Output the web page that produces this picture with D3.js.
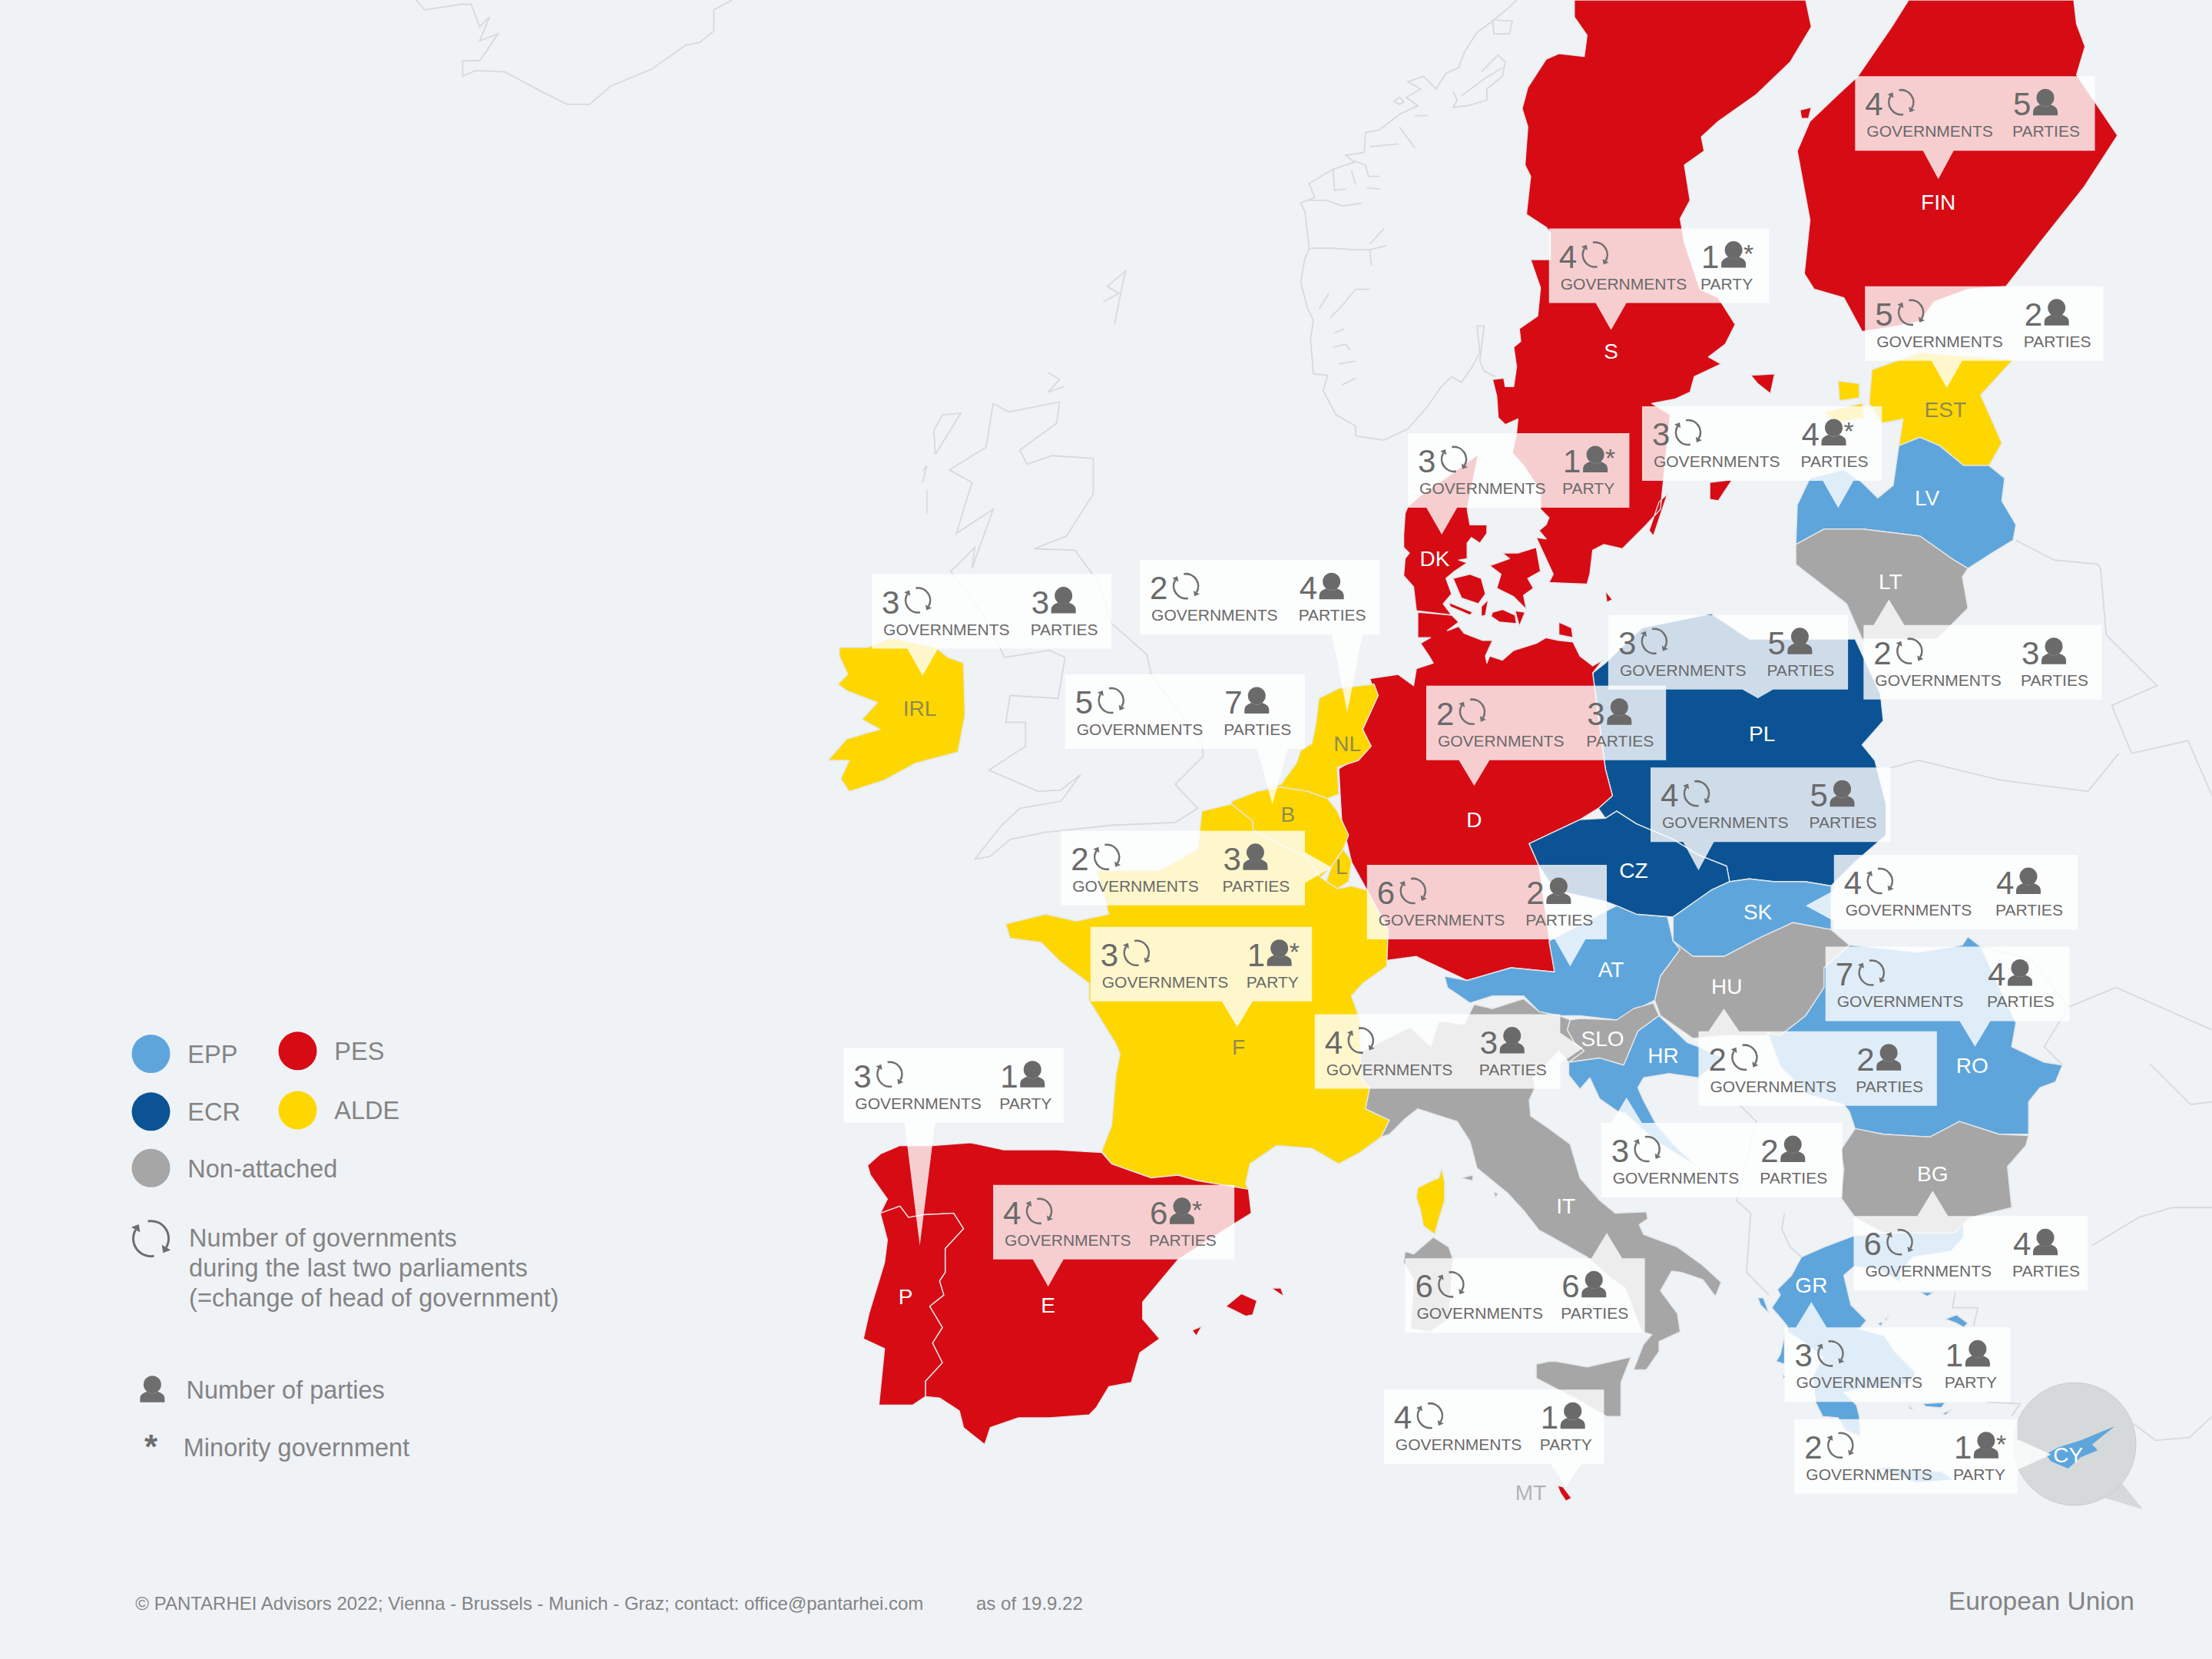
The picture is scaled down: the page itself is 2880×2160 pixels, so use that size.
<!DOCTYPE html>
<html>
<head>
<meta charset="utf-8">
<script src="https://cdn.jsdelivr.net/npm/d3@7"></script>
<style>
  html, body { margin: 0; background: #eff3f6; }
  text { font-family: "Liberation Sans", Arial, sans-serif; }
</style>
</head>
<body>
<svg id="chart" width="2880" height="2160"></svg>
<script>
// callout values, one entry per country
const codes      = ['FIN','S','EST','LV','DK','IRL','NL','B','LT','PL','D','CZ','L','AT','SK','F','HU','RO','SLO','P','E','HR','BG','IT','GR','MT','CY'];
const governments = [4,4,5,3,3,3,2,5,2,3,2,4,2,6,4,3,2,7,4,3,4,3,6,6,3,4,2];
const parties     = [5,1,2,4,1,3,4,7,3,5,3,5,3,2,4,1,2,4,3,1,6,2,4,6,1,1,1];
const minority    = ['S','LV','DK','F','E','CY'];

// callout placement, same order as codes, in map units
const boxLeft  = [1315,1098,1322,1164,998,618,808,755,1321,1140,1011,1170,752,969,1300,773,1204,1294,932,598,704,1135,1314,996,1265,981,1272];
const boxTop   = [54,162,203,288,307,407,397,478,443,436,486,544,589,613,606,657,731,671,719,743,840,796,862,892,941,985,1006];
const boxRight = [1485,1254,1491,1334,1155,788,978,925,1490,1310,1181,1340,925,1139,1473,930,1373,1467,1106,754,875,1306,1480,1166,1425,1137,1430];
const partyCol = [1427,1206,1435,1277,1108,731,921,868,1433,1253,1125,1283,867,1082,1415,884,1316,1409,1049,709,815,1248,1427,1107,1379,1092,1385];
const tipX     = [1374,1142,1380,1303,1022,654,955,902,1339,1246,1045,1204,944,1113,1280,877,1222,1400,1122,652,743,1153,1370,1139,1284,1110,1454];
const tipY     = [127,234,275,360,379,479,505,570,425,495,557,617,615,685,642,728,715,742,743,883,912,778,844,874,923,1054,1031];

// country labels
const labelCodes = ['FIN','S','EST','LV','LT','DK','IRL','NL','B','PL','D','CZ','L','SK','AT','HU','SLO','HR','RO','F','BG','IT','GR','P','E','CY','MT'];
const labelX = [1374,1142,1379,1366,1340,1017,652,955,913,1249,1045,1158,951,1246,1142,1224,1136,1179,1398,878,1370,1110,1284,642,743,1466,1085];
const labelY = [143,249,290,353,412,396,502,527,577,520,581,617,614,646,687,699,736,748,755,742,832,855,911,919,925,1031,1058];

const familyColor = { EPP:'#5ea5dc', ECR:'#0b5394', PES:'#d60b14', ALDE:'#ffd700', NA:'#a6a6a6' };
const legendFamilies = ['EPP','PES','ECR','ALDE','NA'];
const legendNames    = ['EPP','PES','ECR','ALDE','Non-attached'];
const legendCircleX  = [107,211,107,211,107];
const legendCircleY  = [747,745,788,787,828];
const legendLines    = ['Number of governments','during the last two parliaments','(=change of head of government)'];

// outlines, in map units (1568 x 1176)
const shapes = [
  { f:'PES', rings:[
    [[1116,0],[1280,0],[1284,19],[1269,44],[1245,67],[1218,86],[1206,97],[1208,107],[1194,117],[1198,142],[1191,155],[1194,172],[1205,205],[1218,211],[1230,230],[1223,244],[1211,253],[1220,258],[1201,267],[1198,278],[1187,283],[1171,286],[1184,294],[1177,361],[1167,372],[1150,389],[1137,386],[1129,390],[1127,407],[1125,414],[1098,413],[1101,407],[1089,381],[1096,382],[1091,376],[1096,372],[1098,367],[1092,361],[1092,348],[1080,330],[1072,321],[1075,307],[1076,297],[1067,301],[1062,296],[1061,281],[1058,269],[1066,268],[1067,274],[1073,274],[1075,260],[1073,246],[1078,242],[1077,233],[1090,224],[1092,204],[1085,184],[1099,184],[1099,165],[1096,161],[1082,152],[1085,125],[1081,117],[1083,90],[1079,77],[1083,62],[1096,42],[1105,38],[1123,40],[1125,25],[1116,12]],
    [[1241,266],[1258,265],[1255,279],[1246,272]],
    [[1212,342],[1228,340],[1218,355],[1212,354]],
    [[1176,356],[1182,350],[1172,380],[1169,376]]
  ]},
  { f:'PES', rings:[
    [[1353,0],[1470,0],[1472,17],[1478,33],[1472,53],[1501,96],[1477,133],[1446,172],[1422,203],[1395,205],[1371,214],[1361,228],[1340,232],[1320,235],[1307,211],[1286,205],[1279,194],[1283,156],[1274,107],[1283,86],[1303,67],[1317,54],[1341,19]],
    [[1276,78],[1284,76],[1282,84],[1277,84]]
  ]},
  { f:'ALDE', rings:[
    [[1327,262],[1361,250],[1427,255],[1404,280],[1419,314],[1410,330],[1392,330],[1375,316],[1361,310],[1346,316],[1349,297],[1334,300],[1325,286]],
    [[1293,292],[1320,286],[1322,296],[1300,300]],
    [[1303,270],[1318,272],[1318,282],[1304,284]]
  ]},
  { f:'EPP', rings:[[[1346,316],[1361,310],[1375,316],[1392,330],[1410,330],[1421,339],[1419,355],[1429,372],[1427,383],[1412,392],[1395,403],[1385,397],[1361,380],[1320,375],[1293,375],[1273,386],[1274,358],[1283,339],[1307,333],[1320,342],[1331,353],[1342,344]]] },
  { f:'NA', rings:[[[1273,386],[1293,375],[1320,375],[1361,380],[1385,397],[1395,403],[1391,409],[1395,431],[1373,453],[1320,453],[1309,428],[1273,400]]] },
  { f:'ECR', rings:[[[1138,470],[1164,445],[1213,435],[1240,453],[1315,453],[1333,492],[1335,511],[1320,528],[1329,539],[1337,570],[1337,592],[1315,611],[1298,628],[1280,625],[1258,625],[1240,623],[1226,625],[1224,614],[1204,606],[1186,595],[1160,584],[1146,575],[1138,580],[1133,573],[1143,564],[1138,545],[1131,492],[1129,477]]] },
  // Germany
  { f:'PES', rings:[
    [[971,481],[991,478],[1002,486],[1004,474],[1016,470],[1013,465],[1007,456],[1014,452],[1005,452],[1005,434],[1029,436],[1034,441],[1026,447],[1034,444],[1038,449],[1051,454],[1058,454],[1053,465],[1054,470],[1056,465],[1065,468],[1073,461],[1089,456],[1096,452],[1105,454],[1115,455],[1120,465],[1129,472],[1136,468],[1129,477],[1131,492],[1138,545],[1143,564],[1133,573],[1120,581],[1084,598],[1091,614],[1098,664],[1102,689],[1071,686],[1040,695],[1004,678],[982,681],[984,659],[969,631],[958,611],[951,581],[949,545],[964,536],[966,506],[975,492]],
    [[1105,441],[1114,445],[1115,452],[1105,450]]
  ]},
  // Denmark
  { f:'PES', rings:[
    [[998,359],[1006,352],[1030,335],[1048,322],[1040,361],[1042,372],[1054,372],[1054,378],[1049,385],[1043,381],[1040,385],[1040,396],[1034,397],[1040,399],[1031,405],[1025,410],[1029,421],[1023,428],[1029,436],[1004,433],[1002,416],[995,408],[996,396],[999,392],[995,388],[995,379],[996,364]],
    [[1030,410],[1042,407],[1050,410],[1053,421],[1048,428],[1036,424]],
    [[1027,427],[1044,434],[1042,436],[1028,430]],
    [[1055,425],[1053,436],[1050,437],[1050,430]],
    [[1058,434],[1065,432],[1074,436],[1075,442],[1063,441],[1057,437]],
    [[1074,433],[1081,434],[1077,444]],
    [[1056,401],[1070,396],[1065,392],[1076,392],[1089,388],[1092,405],[1083,410],[1087,417],[1080,422],[1082,432],[1073,423],[1061,417],[1064,407]],
    [[1138,419],[1143,425],[1139,427]]
  ]},
  { f:'ALDE', rings:[[[935,495],[949,488],[974,485],[977,493],[966,517],[972,529],[963,539],[948,544],[949,563],[941,566],[927,561],[908,558],[891,561],[908,556],[919,541],[922,532],[930,527],[933,512]]] },
  { f:'ALDE', rings:[[[873,568],[891,561],[908,558],[927,561],[941,566],[948,575],[956,592],[952,602],[944,614],[936,622],[925,607],[910,600],[888,588],[888,582],[873,570]]] },
  { f:'ALDE', rings:[[[944,614],[952,602],[958,610],[956,625],[948,630],[940,625]]] },
  { f:'ALDE', rings:[
    [[852,575],[873,570],[888,582],[888,588],[910,600],[925,607],[936,622],[948,630],[958,628],[969,631],[984,659],[983,685],[966,697],[958,706],[964,723],[965,764],[971,771],[968,786],[985,794],[979,806],[964,817],[949,825],[930,814],[905,812],[886,825],[883,839],[885,843],[849,837],[835,833],[816,835],[788,825],[781,816],[788,798],[791,762],[794,747],[791,740],[772,709],[772,697],[752,682],[738,668],[716,665],[713,655],[741,648],[763,653],[786,648],[783,636],[777,617],[822,617],[849,602]],
    [[1022,828],[1024,838],[1024,851],[1020,864],[1017,875],[1009,869],[1007,858],[1004,849],[1005,842],[1015,837],[1020,835]]
  ]},
  { f:'ALDE', rings:[[[595,459],[615,459],[632,452],[663,459],[672,466],[683,470],[684,507],[679,533],[649,541],[627,553],[602,561],[596,552],[602,539],[587,539],[600,524],[624,517],[611,510],[622,498],[601,490],[594,485],[601,478],[595,465]]] },
  { f:'PES', rings:[
    [[638,812],[661,812],[688,810],[711,815],[749,815],[781,817],[788,825],[816,835],[835,833],[849,837],[885,843],[887,860],[874,868],[835,893],[810,923],[810,935],[822,949],[808,959],[802,980],[786,983],[777,998],[772,1003],[744,1005],[722,1005],[702,1012],[698,1024],[683,1012],[680,1000],[666,991],[656,990],[656,979],[668,966],[661,952],[668,941],[659,926],[669,918],[666,908],[670,902],[670,885],[683,871],[676,860],[655,861],[644,863],[638,855],[624,860],[629,850],[617,833],[615,826],[624,818]],
    [[869,926],[880,917],[891,922],[888,932],[883,933]],
    [[901,913],[908,913],[910,919]],
    [[845,943],[852,940],[848,947]]
  ]},
  { f:'PES', rings:[[[624,860],[638,855],[644,863],[655,861],[676,860],[683,871],[670,885],[670,902],[666,908],[669,918],[659,926],[668,941],[661,952],[668,966],[656,979],[656,990],[647,996],[623,996],[627,956],[612,949],[616,931],[627,895],[629,879]]] },
  // Italy
  { f:'NA', rings:[
    [[1045,712],[1058,715],[1080,708],[1091,717],[1105,720],[1113,723],[1111,730],[1116,739],[1123,745],[1112,753],[1105,745],[1087,764],[1088,771],[1084,780],[1085,791],[1098,800],[1113,811],[1120,835],[1134,851],[1145,860],[1167,859],[1168,864],[1162,868],[1165,875],[1189,884],[1207,897],[1220,909],[1216,919],[1207,907],[1192,902],[1185,901],[1177,915],[1189,931],[1191,944],[1176,951],[1176,958],[1167,971],[1158,971],[1165,953],[1171,946],[1164,944],[1152,913],[1142,906],[1125,891],[1102,878],[1091,872],[1080,858],[1069,846],[1047,828],[1042,809],[1033,795],[1005,786],[996,793],[985,804],[979,806],[985,794],[968,786],[971,771],[965,764],[964,746],[994,731],[1000,728],[1014,742],[1020,724],[1038,726]],
    [[1089,967],[1098,965],[1103,965],[1125,969],[1156,962],[1149,980],[1149,1004],[1139,1004],[1118,992],[1089,977]],
    [[1016,877],[1027,884],[1030,893],[1029,907],[1027,935],[1014,944],[1000,942],[1002,907],[995,895],[996,887],[1002,889]],
    [[1036,835],[1044,833],[1044,837]],
    [[1059,845],[1062,846],[1060,849]]
  ]},
  { f:'PES', rings:[[[1104,1053],[1108,1054],[1114,1062],[1110,1064],[1106,1058]]] },
  { f:'EPP', rings:[[[1024,692],[1040,695],[1071,686],[1102,689],[1098,667],[1146,642],[1160,648],[1182,650],[1186,667],[1191,673],[1177,692],[1173,709],[1146,723],[1120,720],[1105,720],[1091,717],[1080,706],[1058,706],[1042,711],[1026,700]]] },
  { f:'ECR', rings:[[[1084,598],[1120,581],[1138,580],[1146,575],[1160,584],[1186,595],[1204,606],[1224,614],[1226,625],[1213,631],[1186,650],[1160,648],[1146,642],[1138,639],[1102,631],[1091,614]]] },
  { f:'EPP', rings:[[[1226,625],[1240,623],[1258,625],[1280,625],[1298,628],[1298,659],[1271,654],[1249,664],[1222,678],[1200,678],[1186,667],[1186,650],[1213,631]]] },
  { f:'NA', rings:[[[1186,667],[1200,678],[1222,678],[1249,664],[1271,654],[1298,659],[1311,670],[1293,686],[1293,700],[1280,720],[1262,734],[1222,734],[1200,736],[1177,720],[1173,709],[1177,692],[1191,673]]] },
  // Slovenia
  { f:'NA', rings:[[[1113,723],[1120,722],[1146,723],[1158,715],[1172,711],[1176,720],[1161,731],[1151,755],[1134,750],[1112,753],[1123,745],[1116,739],[1111,730]]] },
  // Croatia
  { f:'EPP', rings:[[[1176,720],[1196,739],[1204,742],[1222,750],[1204,764],[1183,761],[1165,764],[1161,771],[1165,780],[1174,797],[1190,815],[1225,846],[1200,825],[1174,809],[1152,789],[1147,788],[1134,779],[1127,764],[1120,772],[1112,762],[1112,753],[1134,750],[1151,755],[1161,731]]] },
  { f:'EPP', rings:[[[1395,664],[1404,671],[1429,725],[1426,742],[1449,753],[1462,755],[1457,767],[1446,771],[1438,781],[1438,804],[1417,804],[1389,795],[1368,806],[1335,804],[1315,800],[1311,788],[1307,783],[1282,776],[1262,756],[1253,732],[1262,734],[1280,720],[1293,700],[1293,686],[1311,670],[1360,675],[1391,670]]] },
  // Greece, drawn before Bulgaria so the northern border sits under it
  { f:'EPP', rings:[
    [[1314,876],[1339,874],[1385,874],[1392,866],[1392,877],[1383,887],[1356,891],[1347,902],[1347,909],[1332,900],[1316,898],[1314,898],[1307,904],[1312,925],[1316,929],[1323,936],[1318,942],[1336,947],[1343,958],[1358,973],[1354,980],[1339,984],[1321,984],[1307,987],[1316,996],[1318,1004],[1319,1018],[1308,1014],[1303,1005],[1292,1004],[1287,994],[1285,976],[1292,962],[1278,951],[1267,944],[1267,940],[1256,927],[1262,918],[1260,914],[1270,904],[1277,891],[1293,884]],
    [[1246,920],[1250,920],[1254,931],[1248,925]],
    [[1265,947],[1265,962],[1265,967],[1259,965],[1262,960]],
    [[1264,974],[1266,976],[1264,977]],
    [[1361,916],[1371,916],[1366,919]],
    [[1379,935],[1387,932],[1395,938],[1392,941],[1387,938]],
    [[1331,938],[1335,937],[1333,940]],
    [[1336,935],[1339,933],[1337,936]],
    [[1363,995],[1379,994],[1376,998],[1365,997]],
    [[1377,1002],[1384,999],[1379,1003]],
    [[1353,996],[1356,999],[1354,999]],
    [[1330,1040],[1339,1040],[1354,1042],[1376,1043],[1385,1049],[1358,1051],[1339,1044]]
  ]},
  { f:'NA', rings:[[[1315,800],[1335,804],[1368,806],[1389,795],[1417,804],[1438,805],[1436,812],[1423,827],[1426,856],[1397,863],[1385,874],[1335,874],[1315,863],[1305,849],[1307,829],[1305,815]]] }
];
const cyprusRing = [[1450,1031],[1459,1026],[1475,1021],[1499,1011],[1483,1024],[1487,1028],[1475,1033],[1466,1041],[1454,1036]];
const cyprusBubble = { cx:1470.6, cy:1023.6, r:43.5, tail:[[1503,1050],[1519,1070],[1486,1060]] };

// pale neighbours: Iceland, Norway, Britain, eastern borders
const contextLines = [
  [[295,0],[301,7],[327,3],[334,3],[340,19],[347,12],[340,29],[353,24],[345,36],[340,43],[328,43],[328,54],[337,50],[358,51],[384,65],[402,74],[418,74],[433,61],[462,49],[486,32],[496,30],[506,22],[506,7],[519,0]],
  // Norway coast
  [[1075,0],[1070,5],[1058,15],[1047,23],[1038,37],[1034,48],[1025,52],[1018,63],[1009,54],[998,58],[1007,63],[997,69],[1005,75],[992,81],[978,92],[968,94],[967,108],[954,110],[960,115],[945,120],[928,130],[932,140],[922,144],[925,150],[927,167],[928,177],[925,183],[922,200],[927,219],[931,227],[929,240],[931,265],[941,266],[938,277],[947,294],[961,302],[961,309],[981,312],[998,304],[1012,288],[1021,275],[1029,267],[1036,271],[1043,261],[1049,250],[1047,231],[1052,231],[1049,256],[1052,263],[1060,267]],
  [[929,142],[940,142],[952,146],[965,144]],
  [[929,176],[945,176],[960,177],[971,177],[983,174]],[[971,173],[981,162]],[[971,177],[972,188]],
  [[943,225],[951,217],[961,205],[971,205]],[[942,208],[935,219]],
  [[946,236],[953,233]],[[945,246],[954,244],[957,248]],[[949,258],[961,256]],[[951,273],[961,268]],
  [[1030,65],[1033,71],[1030,76],[1040,75],[1054,71],[1054,63],[1065,54],[1067,44],[1062,39],[1050,51]],
  [[1036,68],[1052,56],[1065,48]],
  [[988,72],[992,69],[995,72],[992,74],[988,72]],
  [[1058,14],[1072,15],[1070,24],[1059,24],[1058,14]],
  [[971,104],[991,102]],[[992,90],[1003,105]],[[1003,82],[1012,82]],
  [[960,114],[968,117],[970,125],[978,125]],[[958,121],[961,131]],[[945,120],[946,135],[954,134]],
  [[969,133],[978,134]],
  // Britain
  [[704,286],[715,292],[751,285],[749,300],[723,319],[728,329],[746,323],[775,325],[775,350],[756,380],[733,389],[762,390],[775,408],[777,408],[788,442],[813,464],[816,478],[852,527],[853,536],[833,556],[849,573],[833,583],[788,585],[741,590],[716,595],[702,607],[691,609],[710,585],[723,573],[752,568],[766,549],[752,560],[736,561],[701,546],[727,529],[727,512],[713,512],[716,493],[750,495],[755,466],[744,461],[712,466],[700,440],[674,405],[691,388],[689,403],[704,361],[678,378],[689,342],[673,333],[699,317],[704,286]],
  [[663,322],[681,293],[668,294],[662,305],[663,322]],
  [[654,334],[657,330],[654,342]],[[657,347],[657,364]],
  [[782,214],[793,208],[785,203],[798,192],[795,205],[790,230]],
  [[743,264],[751,269],[743,278],[754,274]],
  // east
  [[1429,383],[1456,397],[1487,400],[1489,403],[1493,450],[1529,486],[1497,500],[1511,534],[1551,525],[1568,564]],
  [[1337,545],[1360,539],[1418,553],[1480,561],[1502,534]],
  [[1404,671],[1440,680],[1466,714],[1449,742],[1462,755]],
  [[1466,714],[1500,700],[1568,730]],
  [[1524,754],[1553,783],[1568,781]],
  [[1233,783],[1245,795],[1231,851],[1241,860],[1238,902],[1254,918]],
  [[1265,860],[1263,871],[1269,884],[1277,891]],
  [[1386,916],[1384,927],[1402,927],[1399,940]],
  [[1408,994],[1432,995],[1426,1004]],
  [[1483,883],[1516,863],[1540,856],[1568,856]],
  [[1512,1009],[1528,1021],[1552,1019],[1568,1004]]
];

const svg = d3.select('#chart');
const W = 2880, H = 2160;
const x = d3.scaleLinear().domain([0, 1568]).range([0, W]);
const y = d3.scaleLinear().domain([0, 1176]).range([0, H]);
const outline = d3.line().x(d => x(d[0])).y(d => y(d[1]));
const ringPath = r => outline(r) + 'Z';

const grey = '#6a6a6a', legendGrey = '#848484';

svg.append('rect').attr('width', W).attr('height', H).attr('fill', '#eff3f6');

svg.append('g').selectAll('path').data(contextLines).join('path')
  .attr('d', d => outline(d))
  .attr('fill', 'none').attr('stroke', '#d6dadc').attr('stroke-width', 1.8);

svg.append('g').selectAll('path').data(shapes).join('path')
  .attr('d', d => d.rings.map(ringPath).join(''))
  .attr('fill', d => familyColor[d.f])
  .attr('stroke', '#e4e6e8').attr('stroke-width', 1.4).attr('stroke-linejoin', 'round');

// cyprus bubble
const bubble = svg.append('g');
bubble.append('path')
  .attr('d', ringPath(cyprusBubble.tail))
  .attr('fill', '#d6d9da');
bubble.append('circle')
  .attr('cx', x(cyprusBubble.cx)).attr('cy', y(cyprusBubble.cy)).attr('r', x(cyprusBubble.r))
  .attr('fill', '#d6d9da').attr('stroke', '#c8cccd').attr('stroke-width', 1);
bubble.append('path').attr('d', ringPath(cyprusRing)).attr('fill', familyColor.EPP);

// country labels under the callouts
const darkFill = new Set(['FIN','S','LV','LT','DK','PL','D','CZ','SK','AT','HU','SLO','HR','RO','BG','IT','GR','P','E','CY']);
svg.append('g').selectAll('text').data(labelCodes).join('text')
  .attr('x', (d, i) => x(labelX[i]))
  .attr('y', (d, i) => y(labelY[i]))
  .attr('dy', '0.36em')
  .attr('text-anchor', 'middle')
  .attr('font-size', 28)
  .attr('fill', d => darkFill.has(d) ? '#ffffff' : (d === 'MT' ? '#b3b3b3' : '#8f8a52'))
  .text(d => d);

// box with its pointer as one outline so the overlap is not painted twice
function calloutPath(i) {
  const x0 = x(boxLeft[i]), x1 = x(boxRight[i]), y0 = y(boxTop[i]), y1 = y0 + 97;
  const tx = x(tipX[i]), ty = y(tipY[i]), hw = 20;
  if (ty > y1) return `M${x0},${y0}H${x1}V${y1}H${tx + hw}L${tx},${ty}L${tx - hw},${y1}H${x0}Z`;
  if (ty < y0) return `M${x0},${y0}H${tx - hw}L${tx},${ty}L${tx + hw},${y0}H${x1}V${y1}H${x0}Z`;
  if (tx > x1) return `M${x0},${y0}H${x1}V${ty - hw}L${tx},${ty}L${x1},${ty + hw}V${y1}H${x0}Z`;
  return `M${x0},${y0}H${x1}V${y1}H${x0}V${ty + hw}L${tx},${ty}L${x0},${ty - hw}Z`;
}

function refreshIcon(g, cx, cy, r, color, sw) {
  const rad = Math.PI / 180;
  [[-100, 30], [80, 210]].forEach(([a0, a1]) => {
    const p = d3.path();
    p.arc(cx, cy, r, a0 * rad, a1 * rad);
    g.append('path').attr('d', p.toString()).attr('fill', 'none').attr('stroke', color).attr('stroke-width', sw);
    // arrow head at the end of the arc
    const ex = cx + r * Math.cos(a1 * rad), ey = cy + r * Math.sin(a1 * rad);
    const tx = -Math.sin(a1 * rad), ty = Math.cos(a1 * rad), nx = Math.cos(a1 * rad), ny = Math.sin(a1 * rad);
    const s = r * 0.36;
    g.append('path')
      .attr('d', `M${ex + nx * s * 0.8},${ey + ny * s * 0.8}L${ex - nx * s * 0.8},${ey - ny * s * 0.8}L${ex + tx * s},${ey + ty * s}Z`)
      .attr('fill', color);
  });
}

function personIcon(g, cx, bottom, k, color) {
  g.append('circle').attr('cx', cx).attr('cy', bottom - 23 * k).attr('r', 11.5 * k).attr('fill', color);
  g.append('path')
    .attr('d', `M${cx - 16 * k},${bottom}V${bottom - 5 * k}Q${cx - 16 * k},${bottom - 11 * k} ${cx - 7 * k},${bottom - 14 * k}Q${cx},${bottom - 9 * k} ${cx + 7 * k},${bottom - 14 * k}Q${cx + 16 * k},${bottom - 11 * k} ${cx + 16 * k},${bottom - 5 * k}V${bottom}Z`)
    .attr('fill', color);
}

const callouts = svg.append('g').selectAll('g').data(codes).join('g');
callouts.each(function (code, i) {
  const g = d3.select(this);
  const x0 = x(boxLeft[i]), y0 = y(boxTop[i]), col = x(partyCol[i]);
  const isMinority = minority.includes(code);
  g.append('path').attr('d', calloutPath(i)).attr('fill', '#ffffff').attr('fill-opacity', 0.8);
  g.append('text').attr('x', x0 + 13).attr('y', y0 + 51).attr('font-size', 42).attr('fill', grey).text(governments[i]);
  refreshIcon(g, x0 + 60, y0 + 34, 16, '#707070', 2.6);
  g.append('text').attr('x', x0 + 15).attr('y', y0 + 79).attr('font-size', 21).attr('fill', grey).text('GOVERNMENTS');
  g.append('text').attr('x', col).attr('y', y0 + 51).attr('font-size', 42).attr('fill', grey).text(parties[i]);
  personIcon(g, col + 42, y0 + 51, 1, grey);
  if (isMinority) {
    g.append('text').attr('x', col + 55).attr('y', y0 + 44).attr('font-size', 34).attr('fill', grey).text('*');
  }
  g.append('text').attr('x', col - 1).attr('y', y0 + 79).attr('font-size', 21).attr('fill', grey)
    .text(parties[i] === 1 ? 'PARTY' : 'PARTIES');
});

// legend
const legend = svg.append('g');
legend.selectAll('circle').data(legendFamilies).join('circle')
  .attr('cx', (d, i) => x(legendCircleX[i]))
  .attr('cy', (d, i) => y(legendCircleY[i]))
  .attr('r', 25)
  .attr('fill', d => familyColor[d]);
legend.selectAll('text.family').data(legendNames).join('text')
  .attr('class', 'family')
  .attr('x', (d, i) => x(legendCircleX[i] + 26))
  .attr('y', (d, i) => y(legendCircleY[i]))
  .attr('dy', '0.36em')
  .attr('font-size', 32.5).attr('fill', legendGrey)
  .text(d => d);
refreshIcon(legend, x(107), y(878), 23, '#6e6e6e', 3);
legend.selectAll('text.line').data(legendLines).join('text')
  .attr('class', 'line')
  .attr('x', x(134))
  .attr('y', (d, i) => y(877 + i * 21.3))
  .attr('dy', '0.36em')
  .attr('font-size', 32.5).attr('fill', legendGrey)
  .text(d => d);
personIcon(legend, x(108), y(994), 1, '#6e6e6e');
legend.append('text').attr('x', x(132)).attr('y', y(985)).attr('dy', '0.36em')
  .attr('font-size', 32.5).attr('fill', legendGrey).text('Number of parties');
legend.append('text').attr('x', x(107)).attr('y', y(1034)).attr('text-anchor', 'middle')
  .attr('font-size', 44).attr('font-weight', 'bold').attr('fill', '#6e6e6e').text('*');
legend.append('text').attr('x', x(130)).attr('y', y(1026)).attr('dy', '0.36em')
  .attr('font-size', 32.5).attr('fill', legendGrey).text('Minority government');

// footer
svg.append('text').attr('x', x(96)).attr('y', y(1141)).attr('font-size', 24).attr('fill', legendGrey)
  .text('© PANTARHEI Advisors 2022; Vienna - Brussels - Munich - Graz; contact: office@pantarhei.com');
svg.append('text').attr('x', x(692)).attr('y', y(1141)).attr('font-size', 24).attr('fill', legendGrey)
  .text('as of 19.9.22');
svg.append('text').attr('x', x(1513)).attr('y', y(1141)).attr('text-anchor', 'end').attr('font-size', 33.5).attr('fill', legendGrey)
  .text('European Union');
</script>
</body>
</html>
